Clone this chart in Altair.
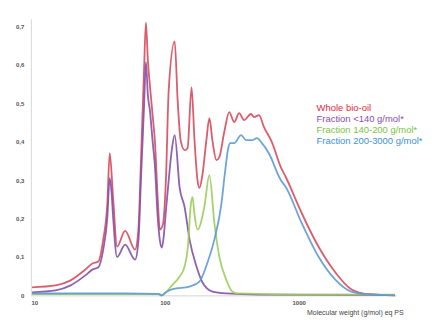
import altair as alt
import pandas as pd

series = ["Whole bio-oil", "Fraction <140 g/mol*", "Fraction 140-200 g/mol*", "Fraction 200-3000 g/mol*"]
line_colors = ["#d84a5c", "#8450a8", "#9ccc5c", "#5e9bd2"]
text_colors = ["#e4273f", "#8a4cb0", "#7cc242", "#3d8fd6"]

red_mw = [10.2, 15.3, 19.8, 25.5, 28.8, 31.9, 34.7, 37.2, 38.8, 41.2, 44.0, 50.6, 60.0, 63.5, 66.4, 70.0, 72.3,
          74.8, 77.4, 81.4, 84.3, 88.7, 91.8, 96.7, 102, 107, 118.6, 124.8, 131.4, 140.6, 148, 158.5, 166.8,
          175.5, 181.6, 191, 204.6, 215.4, 226.8, 242.8, 255.5, 278.3, 303, 330, 359.4, 391.4, 440.7, 464,
          505.7, 551, 631, 735.6, 801.5, 1051, 1405, 1878, 2471, 3303, 5240]
red_val = [0.021, 0.026, 0.039, 0.067, 0.083, 0.088, 0.145, 0.236, 0.370, 0.249, 0.127, 0.168, 0.119, 0.17,
           0.35, 0.585, 0.71, 0.611, 0.547, 0.464, 0.404, 0.249, 0.171, 0.184, 0.30, 0.534, 0.661, 0.508,
           0.404, 0.378, 0.383, 0.541, 0.404, 0.30, 0.28, 0.313, 0.404, 0.461, 0.404, 0.352, 0.36, 0.425,
           0.477, 0.451, 0.474, 0.456, 0.472, 0.464, 0.469, 0.438, 0.399, 0.334, 0.308, 0.215, 0.127, 0.06,
           0.016, 0.003, 0.0]

pur_mw = [10.2, 15.3, 19.8, 25.5, 28.8, 31.9, 34.7, 37.2, 38.8, 40.0, 41.2, 44.0, 50.6, 60.0, 63.5, 66.4,
          70.0, 72.3, 74.8, 77.4, 81.4, 84.3, 88.7, 91.8, 95.0, 98.0, 102, 107, 113, 118.6, 129.2, 140.6,
          153.2, 172.6, 191, 226.8, 288, 500, 5240]
pur_val = [0.008, 0.013, 0.026, 0.052, 0.067, 0.073, 0.119, 0.20, 0.305, 0.27, 0.20, 0.10, 0.132, 0.093,
           0.14, 0.30, 0.49, 0.607, 0.52, 0.482, 0.396, 0.34, 0.20, 0.145, 0.124, 0.15, 0.22, 0.30, 0.38,
           0.417, 0.28, 0.23, 0.145, 0.075, 0.034, 0.010, 0.005, 0.002, 0.001]

grn_mw = [10.2, 50, 91.8, 95.0, 100, 114.6, 129.2, 140.6, 149, 156, 161.2, 166.8, 175.5, 197.7, 215.4,
          234.6, 255.5, 288, 319, 347, 1000, 5240]
grn_val = [0.003, 0.003, 0.003, 0.0, 0.005, 0.028, 0.049, 0.075, 0.127, 0.231, 0.256, 0.21, 0.171, 0.231,
           0.313, 0.189, 0.101, 0.041, 0.010, 0.005, 0.002, 0.002]

blu_mw = [10.2, 50, 88.7, 95.0, 100, 114.6, 153.2, 181.6, 208.3, 234.6, 264.4, 283, 297.9, 308.3, 330,
          371.9, 404.9, 448, 488.6, 532, 599, 735.6, 801.5, 1051, 1405, 1878, 2471, 3303, 5240]
blu_val = [0.005, 0.005, 0.004, 0.0, 0.006, 0.016, 0.023, 0.036, 0.085, 0.145, 0.236, 0.326, 0.383, 0.396,
           0.396, 0.417, 0.404, 0.404, 0.409, 0.396, 0.37, 0.30, 0.282, 0.189, 0.101, 0.041, 0.010, 0.003, 0.0]

y_ticks = [0, 0.1, 0.2, 0.3, 0.4, 0.5, 0.6, 0.7]
x_ticks = [10, 100, 1000]

rows = []
for si, (name, mws, vals) in enumerate(zip(series, [red_mw, pur_mw, grn_mw, blu_mw],
                                           [red_val, pur_val, grn_val, blu_val])):
    for i, (m, v) in enumerate(zip(mws, vals)):
        rows.append({"series": name, "mw": m, "value": v, "order": i})
df = pd.DataFrame(rows)

lines = alt.Chart(df).mark_line(strokeWidth=1.8, opacity=0.9, interpolate="monotone").encode(
    x=alt.X("mw:Q",
            scale=alt.Scale(type="log", domain=[10, 5350]),
            axis=alt.Axis(values=x_ticks, format="d", title="Molecular weight (g/mol) eq PS",
                          ticks=False, grid=False, domainColor="#d4d4d4", labelFontSize=6,
                          labelFont="Liberation Sans", labelFontWeight="bold", labelColor="#555",
                          labelPadding=4, titleFontSize=7, titleFont="Liberation Sans",
                          titleFontWeight="normal", titleColor="#444", titleAlign="right",
                          titleX=374, titleY=17, titleBaseline="middle")),
    y=alt.Y("value:Q",
            scale=alt.Scale(domain=[0, 0.72]),
            axis=alt.Axis(values=y_ticks, title=None, ticks=False, grid=False, domainColor="#d8d8d8",
                          labelExpr="datum.value == 0 ? '0' : replace(format(datum.value, '.1f'), '.', ',')",
                          labelFontSize=6, labelFont="Liberation Sans", labelFontWeight="bold",
                          labelColor="#555", labelPadding=7)),
    color=alt.Color("series:N", sort=series,
                    scale=alt.Scale(domain=series, range=line_colors), legend=None),
    order="order:Q",
)

layers = [lines]
for i, (name, tc) in enumerate(zip(series, text_colors)):
    layers.append(
        alt.Chart(pd.DataFrame({"label": [name]})).mark_text(
            align="left", baseline="middle", fontSize=9.5, font="Liberation Sans", color=tc
        ).encode(x=alt.value(287), y=alt.value(90 + 11 * i), text="label:N")
    )

chart = alt.layer(*layers).properties(
    width=367, height=278,
    autosize=alt.AutoSizeParams(type="none"),
    padding={"left": 23, "top": 10, "right": 30, "bottom": 22},
).configure_view(stroke=None)

chart.save("out.html", embed_options={"renderer": "svg", "actions": False})
